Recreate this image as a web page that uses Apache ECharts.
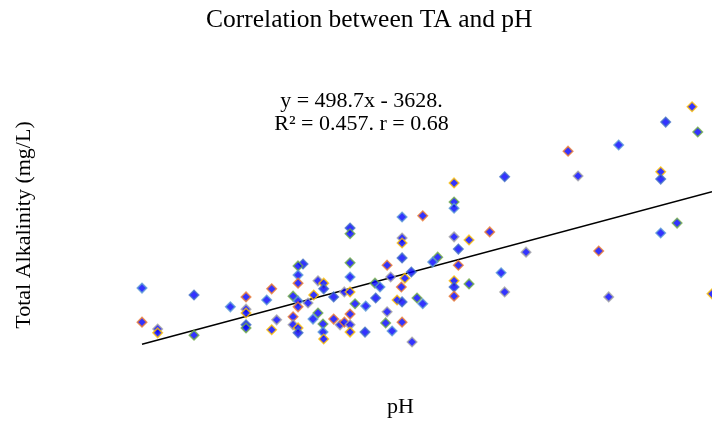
<!DOCTYPE html>
<html>
<head>
<meta charset="utf-8">
<title>Correlation between TA and pH</title>
<script src="https://cdn.jsdelivr.net/npm/echarts@6/dist/echarts.min.js"></script>
<style>
  html, body { margin: 0; padding: 0; background: #fff; }
  #chart { width: 712px; height: 421px; }
</style>
</head>
<body>
<div id="chart"></div>
<script>
// pH values of each sample
var ph = [
  7.600, 7.600, 7.622, 7.622, 7.673, 7.673, 7.724, 7.746, 7.746, 7.746,
  7.746, 7.746, 7.775, 7.782, 7.789, 7.782, 7.826, 7.819, 7.819, 7.819,
  7.847, 7.855, 7.855, 7.812, 7.819, 7.819, 7.833, 7.841, 7.869, 7.847,
  7.840, 7.812, 7.812, 7.819, 7.819, 7.854, 7.854, 7.869, 7.878, 7.855,
  7.892, 7.892, 7.965, 7.994, 7.965, 7.965, 7.965, 7.892, 7.892, 7.944,
  7.949, 7.969, 7.978, 7.927, 7.934, 7.964, 7.884, 7.892, 7.928, 7.899,
  7.914, 7.892, 7.944, 7.958, 7.965, 7.986, 7.994, 7.884, 7.892, 7.892,
  7.913, 7.942, 7.951, 7.965, 7.979, 8.038, 8.109, 8.038, 8.038, 8.088,
  8.038, 8.059, 8.044, 8.015, 8.008, 8.044, 8.139, 8.038, 8.038, 8.059,
  8.104, 8.038, 8.109, 8.372, 8.335, 8.380, 8.269, 8.198, 8.212, 8.328,
  8.328, 8.351, 8.328, 8.241, 8.255, 8.400
];
// total alkalinity (mg/L), same order
var ta = [
  309, 220, 202, 192, 291, 186, 260, 286, 254, 244,
  213, 205, 278, 307, 226, 200, 372, 367, 343, 322,
  328, 322, 307, 288, 275, 260, 270, 291, 286, 244,
  228, 234, 213, 205, 192, 215, 194, 228, 213, 176,
  466, 451, 495, 498, 440, 427, 388, 375, 338, 369,
  338, 335, 351, 322, 312, 312, 299, 299, 283, 268,
  262, 241, 247, 278, 273, 283, 268, 220, 213, 194,
  194, 218, 197, 220, 168, 584, 600, 534, 518, 456,
  443, 435, 411, 390, 377, 369, 403, 328, 312, 320,
  349, 288, 299, 783, 743, 717, 683, 667, 602, 613,
  594, 479, 453, 406, 286, 294
];
// fitted line y = slope * x + intercept
var slope = 498.7;
var intercept = -3628;
var eqLines = ['y = 498.7x - 3628.', 'R\u00b2 = 0.457. r = 0.68'];

// marker border colours (one per sampling group)
var borderColors = ['#5b9bd5', '#ed7d31', '#a5a5a5', '#ffc000', '#4472c4', '#70ad47'];

// each point gets its own border colour
var points = ph.map(function (v, i) {
  return {
    value: [v, ta[i]],
    itemStyle: { borderColor: borderColors[i % borderColors.length] }
  };
});
var phMin = Math.min.apply(null, ph);
var phMax = Math.max.apply(null, ph);
var trend = [
  [phMin, slope * phMin + intercept],
  [phMax, slope * phMax + intercept]
];

var serif = '"Liberation Serif", "DejaVu Serif", serif';

var option = {
  backgroundColor: '#fff',
  animation: false,
  title: {
    text: 'Correlation between TA and pH',
    left: 201,
    top: 2,
    textStyle: { fontFamily: serif, fontWeight: 'normal', fontSize: 25.5, color: '#000' }
  },
  grid: { left: 142, right: 0, top: 100.3, bottom: 14.7 },
  xAxis: { type: 'value', min: 7.6, max: 8.4, show: false },
  yAxis: { type: 'value', min: 0, max: 800, show: false },
  graphic: [
    {
      // regression equation
      type: 'text', x: 361.5, y: 90,
      style: {
        text: eqLines.join('\n'), fill: '#000',
        font: '22px ' + serif, lineHeight: 23,
        textAlign: 'center', textVerticalAlign: 'top'
      }
    },
    {
      type: 'text', x: 400.5, y: 407,
      style: {
        text: 'pH', fill: '#000', font: '22px ' + serif,
        textAlign: 'center', textVerticalAlign: 'middle'
      }
    },
    {
      type: 'text', x: 24, y: 225, rotation: Math.PI / 2,
      style: {
        text: 'Total Alkalinity (mg/L)', fill: '#000', font: '22px ' + serif,
        textAlign: 'center', textVerticalAlign: 'middle'
      }
    }
  ],
  series: [
    {
      type: 'line',
      data: trend,
      symbol: 'none',
      silent: true,
      lineStyle: { color: '#000', width: 1.5 },
      z: 1
    },
    {
      type: 'scatter',
      data: points,
      symbol: 'diamond',
      symbolSize: 9.5,
      itemStyle: { color: '#0000ff', borderWidth: 1.5 },
      z: 2
    }
  ]
};

var chart = echarts.init(document.getElementById('chart'));
chart.setOption(option);
</script>
</body>
</html>
